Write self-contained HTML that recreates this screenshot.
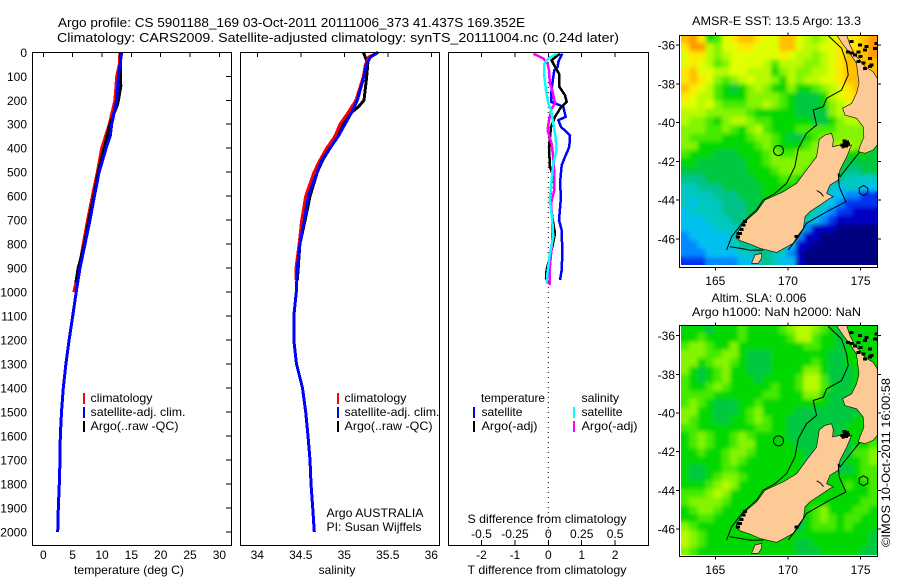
<!DOCTYPE html>
<html lang="en">
<head>
<meta charset="utf-8">
<title>Argo profile CS 5901188_169</title>
<style>
html,body{margin:0;padding:0;background:#fff;width:900px;height:580px;overflow:hidden}
svg{display:block;font-family:"Liberation Sans",Arial,sans-serif;font-size:12px;fill:#000}
</style>
</head>
<body>
<svg id="fig" xmlns="http://www.w3.org/2000/svg" width="900" height="580" viewBox="0 0 900 580">
<defs>
<clipPath id="clip-map1"><rect x="679.5" y="35.5" width="198" height="232"/></clipPath>
<clipPath id="clip-map2"><rect x="679.5" y="325.5" width="198" height="231"/></clipPath>
<filter id="soften" x="-5%" y="-5%" width="110%" height="110%"><feGaussianBlur stdDeviation="2.2"/></filter>
</defs>
<text x="58" y="27" font-size="13" textLength="467" lengthAdjust="spacingAndGlyphs">Argo profile: CS 5901188_169 03-Oct-2011 20111006_373 41.437S 169.352E</text>
<text x="57" y="42" font-size="13" textLength="562" lengthAdjust="spacingAndGlyphs">Climatology: CARS2009. Satellite-adjusted climatology: synTS_20111004.nc (0.24d later)</text>
<text x="74" y="574" textLength="110" lengthAdjust="spacingAndGlyphs">temperature (deg C)</text>
<text x="337" y="574" text-anchor="middle">salinity</text>
<text x="467.5" y="574" textLength="159" lengthAdjust="spacingAndGlyphs">T difference from climatology</text>
<text x="467.5" y="523" textLength="159" lengthAdjust="spacingAndGlyphs">S difference from climatology</text>
<text x="326.5" y="517" textLength="97" lengthAdjust="spacingAndGlyphs">Argo AUSTRALIA</text>
<text x="326.5" y="531" textLength="95" lengthAdjust="spacingAndGlyphs">PI: Susan Wijffels</text>
<text x="692" y="25" textLength="169" lengthAdjust="spacingAndGlyphs">AMSR-E SST: 13.5 Argo: 13.3</text>
<text x="711.5" y="302" textLength="95" lengthAdjust="spacingAndGlyphs">Altim. SLA: 0.006</text>
<text x="692" y="316" textLength="169" lengthAdjust="spacingAndGlyphs">Argo h1000: NaN h2000: NaN</text>
<text transform="translate(890,547) rotate(-90)" textLength="169" lengthAdjust="spacingAndGlyphs">©IMOS 10-Oct-2011 16:00:58</text>
</svg>
<script>
// ---------- depth / profile data ----------
const depthTicks = [0,100,200,300,400,500,600,700,800,900,1000,1100,1200,1300,1400,1500,1600,1700,1800,1900,2000];
const tempTicks = [0,5,10,15,20,25,30];
const salTicks = [34,34.5,35,35.5,36];
const salTickLabels = ['34','34.5','35','35.5','36'];
const tDiffTicks = [-2,-1,0,1,2];
const sDiffTicks = [-0.5,-0.25,0,0.25,0.5];
const sDiffTickLabels = ['-0.5','-0.25','0','0.25','0.5'];

const tempSatDepth = [0,100,200,300,350,400,500,600,700,800,900,1000,1100,1200,1300,1400,1500,1600,1700,1800,1900,2000];
const tempSatVal = [13.35,12.8,12.5,11.65,11.4,10.7,9.5,8.7,7.95,7.1,6.25,5.6,5.0,4.4,3.85,3.4,3.1,2.9,2.85,2.73,2.56,2.45];
const tempClimDepth = [0,50,100,200,300,400,500,600,700,800,900,1000];
const tempClimVal = [13.05,12.95,12.5,12.2,11.25,9.95,9.2,8.35,7.55,6.8,6.1,5.2];
const tempArgoDepth = [0,100,140,200,220,300,400,500,600,700,800,900,960];
const tempArgoVal = [13.15,13.15,13.2,12.8,12.6,11.35,10.4,9.35,8.6,7.75,7,5.95,5.55];

const salSatDepth = [0,20,54,100,200,250,300,350,400,450,500,600,700,800,900,1000,1100,1200,1300,1400,1500,1600,1700,1800,1900,2000];
const salSatVal = [35.39,35.30,35.25,35.226,35.15,35.085,35.008,34.931,34.836,34.74,34.69,34.586,34.54,34.49,34.46,34.448,34.42,34.42,34.45,34.52,34.556,34.583,34.606,34.617,34.637,34.655];
const salClimDepth = [0,20,54,100,200,250,300,350,400,450,500,600,700,800,900,950];
const salClimVal = [35.39,35.28,35.24,35.22,35.134,35.046,34.95,34.893,34.798,34.72,34.652,34.556,34.51,34.48,34.445,34.445];
const salArgoDepth = [0,47,100,200,228,250,300,332,350,400,450,500,600,700,800,900,950];
const salArgoVal = [35.218,35.27,35.257,35.226,35.16,35.085,34.99,34.94,34.89,34.836,34.75,34.69,34.606,34.55,34.49,34.47,34.46];

const dTempSatDepth = [6,40,61,75,131,186,207,221,228,269,283,311,346,394,436,471,547,603,700,742,839,908,950];
const dTempSatVal = [.42,.30,.28,.18,.12,.08,.08,.35,.45,.52,.30,.38,.65,.63,.50,.40,.35,.38,.32,.40,.42,.40,.35];
const dTempArgoDepth = [6,33,61,89,144,179,207,235,269,311,394,478,506,617,714,756,811,908,943,964];
const dTempArgoVal = [.35,.10,.20,.32,.33,.50,.55,.35,.20,.08,.02,.05,.12,.05,.15,.20,.12,-.05,-.07,0];
const dSalArgoDepth = [6,26,47,75,131,158,214,235,283,325,381,436,506,575,631,700,783,894,971];
const dSalArgoVal = [-.112,-.037,-.005,.005,.012,.03,.05,.025,.005,-.005,.025,.037,.045,.045,.02,.03,.03,.012,.012];
const dSalSatDepth = [6,26,47,89,158,214,242,297,353,408,464,533,617,700,769,839,922,964];
const dSalSatVal = [.062,0,-.03,-.032,-.017,0,.02,.037,.055,.062,.037,.025,.012,.03,.037,.012,-.007,-.012];

// ---------- map data (gridded level codes, one string per latitude row) ----------
const sstGrid = [
"efd89cdeedcceecbabcdddef","dffbaccddccceecbbccdddef","cddbabccccccdcbbabcdeeef","cdcb9accccb9bbbaabcdeeee",
"deccbbccbbb8abaabbcdeeee","dedca9abcbba8babbccdeeee","edcb9878aba88a889abcdeee","dcbb9888aaaa987778bcdddd",
"ccbca999aaba987778abcccc","bbbaaaaa9888887777abbbbb","baa98abba9988888778abbbb","aaa99a98ab988899999aaaaa",
"a99998889aa987789aaaaaaa","aa88888889a98889aaabbaa8","98887778889a99aaaaa98887","88777777889aaaaa98887777",
"777777778889aaa988876677","666777777888998888765555","556667777788888887545544","555566677788888886443322",
"545556667788888875432222","455556667788888754322111","444555667778887543211111","444455567777765311100000",
"344444567766653110000000","334444566655541100000000","333444455665531000000000","222333344565441000000000"];
const slaGrid = [
"8887888988889abba9878888","88988889888889bb98878888","9aa988a88888888998878888","aaa99aa87778888888778888",
"aa89aa987778888898778888","a8789a887778888aa8777888","98789a888788889bb9777888","9889a9888889889bb9877888",
"999988888899888aa8777888","9a9877788988888888777888","aa8877789a88887777777788","a98877889a98877777777888",
"998888888998877777778888","89a9889a9888877777778888","89a9889aa888887777777889","889889aa988888877777799a",
"888889a9888888877777889a","877889988888888778877899","87789aa98888888888888899","8889aba88888888888889889",
"999aba888888888888888889","9aaaa9888888888888888899","89aa9888888888889a888998","88998888888888789a989988",
"a98888888888887899989888","ba9888888888888888888887","ba9888888888887788888887","a98888888888887778888877"];
const levelColors = {'0':'#000080','1':'#0000c4','2':'#0030f0','3':'#0088ff','4':'#00c0f0','5':'#00c8c0','6':'#00c288','7':'#00c840','8':'#00d800','9':'#44ea00','a':'#84f400','b':'#b8fb00','c':'#e0ff00','d':'#ffe800','e':'#ffc000','f':'#ff9800'};
const gridLonRange = [162.64,176.13];
const gridLatRange = [-35.47,-47.34];

const southIsland = [[172.16,-40.86],[172.55,-40.64],[173.0,-40.55],[173.12,-40.86],[173.07,-41.24],[173.58,-41.15],[173.76,-41.33],[174.38,-41.15],[174.04,-41.76],[173.58,-42.44],[173.46,-42.96],[172.89,-43.22],[172.66,-43.65],[173.12,-43.82],[172.89,-43.9],[172.2,-44.25],[171.51,-44.59],[171.17,-44.85],[171.06,-45.45],[170.71,-45.79],[170.37,-46.22],[169.22,-46.69],[168.07,-46.48],[167.39,-46.26],[166.7,-46.09],[166.42,-45.88],[166.7,-45.45],[167.16,-45.02],[167.84,-44.59],[168.42,-43.99],[169.68,-43.56],[170.6,-43.13],[171.28,-42.44],[171.97,-41.76]];
const northIsland = [[173.35,-35.48],[173.81,-36.0],[174.27,-36.43],[174.72,-36.95],[174.89,-37.98],[174.72,-38.49],[174.38,-39.01],[173.76,-39.26],[173.92,-39.61],[174.72,-39.78],[175.18,-40.21],[175.23,-40.73],[174.95,-41.24],[174.84,-41.5],[175.3,-41.58],[175.87,-41.41],[176.15,-41.15],[176.15,-37.72],[175.87,-37.38],[175.3,-37.12],[174.95,-36.78],[174.61,-36.51],[174.27,-36.0],[174.04,-35.48]];
const stewartIsland = [[167.5,-47.25],[167.73,-46.82],[168.19,-46.74],[168.19,-46.99],[167.96,-47.25]];
const isobathWest = [[172.78,-35.52],[173.69,-36.17],[174.04,-36.95],[174.15,-37.55],[173.69,-38.32],[172.66,-38.75],[172.43,-39.18],[171.74,-39.35],[171.97,-40.12],[171.28,-40.55],[170.71,-41.33],[170.48,-42.27],[169.91,-43.13],[169.11,-43.65],[168.3,-43.99],[167.84,-44.5],[166.93,-45.11],[166.12,-45.88],[165.78,-46.57]];
const isobathEast = [[174.95,-41.5],[173.58,-42.79],[173.46,-42.62],[173.53,-43.3],[173.99,-44.08],[172.89,-44.5],[171.28,-45.19],[170.71,-45.88],[170.02,-46.57]];
const isobathSouth = [[166.01,-46.4],[166.7,-46.48],[167.39,-46.57],[168.3,-46.57]];
const peninsulaInlet = [[171.98,-43.5],[172.25,-43.62],[172.45,-43.8]];
const islandBlots = [[173.92,-41.07],[173.75,-41.15],[174.05,-41.0],[173.85,-41.2],[174.0,-41.2],[174.15,-41.1],[173.9,-40.95],
[166.7,-45.71],[166.93,-45.28],[166.55,-45.9],[166.8,-45.5],[166.6,-45.72],[167.05,-45.1],
[174.39,-35.83],[174.15,-36.35],[174.39,-36.4],[174.61,-36.52],[174.84,-36.86],[175.2,-36.94],[175.65,-36.69],[175.3,-36.26],[175.42,-36.09],[175.99,-36.17],[174.96,-36.0],[174.84,-36.35],[175.76,-37.03],[176.1,-35.91],[175.65,-37.11],[175.3,-37.2],[175.0,-36.6],[170.6,-45.88]];
const lonTicks = [165,170,175];
const latTicks = [-36,-38,-40,-42,-44,-46];
const argoPosition = [169.352,-41.437];
const otherFloat = [175.2,-43.5];

// ---------- axis functions ----------
const depthY = d => 52.3 + d * 0.2398;
const tempX = t => 43.3 + t * 5.87;
const salX = s => 257.3 + (s - 34) * 87;
const tDiffX = t => 548.3 + t * 33.4;
const sDiffX = s => 548.3 + s * 133.6;
const lonX = lon => 715.3 + (lon - 165) * 14.53;
const map1Y = lat => 45 + (-lat - 36) * 19.4;
const map2Y = lat => 335.7 + (-lat - 36) * 19.34;

const NS = 'http://www.w3.org/2000/svg';
const fig = document.getElementById('fig');
function el(tag, attrs, parent) {
  const e = document.createElementNS(NS, tag);
  for (const k in attrs) e.setAttribute(k, attrs[k]);
  (parent || fig).appendChild(e);
  return e;
}
function frame(x0, y0, x1, y1, name) {
  const r = el('rect', {x:x0, y:y0, width:x1-x0, height:y1-y0, fill:'none', stroke:'#000', 'stroke-width':1.3, 'shape-rendering':'crispEdges'});
  
  
}
function tick(x1, y1, x2, y2) {
  const t = el('line', {x1, y1, x2, y2, stroke:'#000', 'stroke-width':1, 'shape-rendering':'crispEdges'});
  
  
}
function label(x, y, str, anchor) {
  const t = el('text', {x, y, 'text-anchor':anchor});
  t.textContent = str;
  
  
}
function profile(xs, ys, xf, color, width, name) {
  const pts = xs.map((v, i) => xf(v).toFixed(1) + ',' + depthY(ys[i]).toFixed(1)).join(' ');
  const p = el('polyline', {points:pts, fill:'none', stroke:color, 'stroke-width':width, 'stroke-linejoin':'miter', 'shape-rendering':'crispEdges'});
  
  
}
function legendBar(x, y, color) {
  const b = el('rect', {x, y, width:2, height:11, fill:color});
  
  
}
function legendText(x, y, str, w) {
  const t = el('text', {x, y, textLength:w, lengthAdjust:'spacingAndGlyphs'});
  t.textContent = str;
  
  
}

// ---------- depth-labelled panels ----------
depthTicks.forEach(d => {
  label(27, depthY(d) + 4.5, String(d), 'end');
  tick(226, depthY(d), 231, depthY(d));
});
tempTicks.forEach(t => {
  tick(tempX(t), 52, tempX(t), 57);
  label(tempX(t), 559, String(t), 'middle');
});
salTicks.forEach((s, i) => {
  tick(salX(s), 52, salX(s), 57);
  label(salX(s), 559, salTickLabels[i], 'middle');
});
tDiffTicks.forEach(t => {
  tick(tDiffX(t), 52, tDiffX(t), 57);
  tick(tDiffX(t), 540, tDiffX(t), 545);
  label(tDiffX(t), 559, String(t), 'middle');
});
sDiffTicks.forEach((s, i) => {
  label(sDiffX(s), 538, sDiffTickLabels[i], 'middle');
});

const zero = el('line', {x1:tDiffX(0), x2:tDiffX(0), y1:52, y2:545, stroke:'#000', 'stroke-width':1, 'stroke-dasharray':'1 4'});



profile(tempClimVal, tempClimDepth, tempX, '#ff0000', 3, 'temperature-climatology-line');
profile(tempArgoVal, tempArgoDepth, tempX, '#000000', 3, 'temperature-argo-line');
profile(tempSatVal, tempSatDepth, tempX, '#0000ff', 3, 'temperature-satellite-line');
profile(salArgoVal, salArgoDepth, salX, '#000000', 3, 'salinity-argo-line');
profile(salClimVal, salClimDepth, salX, '#ff0000', 3, 'salinity-climatology-line');
profile(salSatVal, salSatDepth, salX, '#0000ff', 3, 'salinity-satellite-line');
profile(dTempSatVal, dTempSatDepth, tDiffX, '#0000ff', 2.5, 'temperature-difference-satellite-line');
profile(dTempArgoVal, dTempArgoDepth, tDiffX, '#000000', 2.5, 'temperature-difference-argo-line');
profile(dSalArgoVal, dSalArgoDepth, sDiffX, '#ff00ff', 2.5, 'salinity-difference-argo-line');
profile(dSalSatVal, dSalSatDepth, sDiffX, '#00ffff', 2.5, 'salinity-difference-satellite-line');

frame(32.5, 52.5, 231.5, 545.5, 'temperature-panel-frame');
frame(240.5, 52.5, 439.5, 545.5, 'salinity-panel-frame');
frame(448.5, 52.5, 648.5, 545.5, 'difference-panel-frame');

// legends
legendBar(83, 393, '#ff0000'); legendText(90.5, 402, 'climatology', 62);
legendBar(83, 407, '#0000ff'); legendText(90.5, 416, 'satellite-adj. clim.', 95);
legendBar(83, 421, '#000000'); legendText(90.5, 430, 'Argo(..raw -QC)', 88);
legendBar(337, 393, '#ff0000'); legendText(344.5, 402, 'climatology', 62);
legendBar(337, 407, '#0000ff'); legendText(344.5, 416, 'satellite-adj. clim.', 95);
legendBar(337, 421, '#000000'); legendText(344.5, 430, 'Argo(..raw -QC)', 88);
legendText(481, 402, 'temperature', 64);
legendBar(473, 407, '#0000ff'); legendText(481.5, 416, 'satellite', 41);
legendBar(473, 421, '#000000'); legendText(481.5, 430, 'Argo(-adj)', 56);
legendText(581.5, 402, 'salinity', 37.5);
legendBar(573, 407, '#00ffff'); legendText(581.5, 416, 'satellite', 41);
legendBar(573, 421, '#ff00ff'); legendText(581.5, 430, 'Argo(-adj)', 56);

// ---------- maps ----------
function drawMap(grid, yf, clipId, top, bottom, labelY, prefix) {
  const g = el('g', {'clip-path':'url(#' + clipId + ')'});
  
  
  const cellsGroup = el('g', {id:prefix + '-cells'}, g);
  
  
  const nRows = grid.length;
  const x0 = lonX(gridLonRange[0]), x1 = lonX(gridLonRange[1]);
  const y0 = yf(gridLatRange[0]), y1 = yf(gridLatRange[1]);
  const cw = (x1 - x0) / 24, ch = (y1 - y0) / nRows;
  grid.forEach((row, r) => {
    const codes = row.padEnd(24, row[row.length - 1]).slice(0, 24);
    for (let c = 0; c < 24; c++) {
      const cell = el('rect', {x:(x0 + c * cw).toFixed(2), y:(y0 + r * ch).toFixed(2), width:(c === 23 ? cw : cw + 0.5).toFixed(2), height:(r === nRows - 1 ? ch : ch + 0.5).toFixed(2), fill:levelColors[codes[c]], 'shape-rendering':'crispEdges'}, cellsGroup);
      
      
    }
  });
  // soften the coarse cells: a blurred copy sits over the sharp one, then a clip keeps the white margin
  const innerClip = el('clipPath', {id:prefix + '-inner'}, g);
  el('rect', {x:x0, y:y0, width:x1 - x0, height:y1 - y0}, innerClip);
  const softWrap = el('g', {'clip-path':'url(#' + prefix + '-inner)'}, g);
  const soft = el('use', {href:'#' + prefix + '-cells', filter:'url(#soften)'}, softWrap);
  
  

  const toPts = arr => arr.map(p => lonX(p[0]).toFixed(1) + ',' + yf(p[1]).toFixed(1)).join(' ');
  [[northIsland,'north-island'],[southIsland,'south-island'],[stewartIsland,'stewart-island']].forEach(item => {
    const land = el('polygon', {points:toPts(item[0]), fill:'#fdca96', stroke:'#000', 'stroke-width':0.6}, g);
    
    
  });
  [isobathWest, isobathEast, isobathSouth, peninsulaInlet].forEach(arr => {
    const iso = el('polyline', {points:toPts(arr), fill:'none', stroke:'#000', 'stroke-width':1}, g);
    
    
  });
  islandBlots.forEach(p => {
    const blot = el('rect', {x:lonX(p[0]) - 2, y:yf(p[1]) - 1.5, width:4, height:3, fill:'#000', 'shape-rendering':'crispEdges'}, g);
    
    
  });
  const mark = el('circle', {cx:lonX(argoPosition[0]), cy:yf(argoPosition[1]), r:5, fill:'none', stroke:'#000', 'stroke-width':1}, g);
  
  
  const cx = lonX(otherFloat[0]), cy = yf(otherFloat[1]);
  const hexPts = [0,1,2,3,4,5].map(i => (cx + 5 * Math.cos(Math.PI / 6 + i * Math.PI / 3)).toFixed(1) + ',' + (cy + 5 * Math.sin(Math.PI / 6 + i * Math.PI / 3)).toFixed(1)).join(' ');
  const hex = el('polygon', {points:hexPts, fill:'none', stroke:'#000', 'stroke-width':1}, g);
  
  

  frame(679.5, top, 877.5, bottom, prefix + '-map-frame');
  lonTicks.forEach(lon => {
    tick(lonX(lon), top - 3, lonX(lon), top);
    tick(lonX(lon), bottom, lonX(lon), bottom + 3);
    label(lonX(lon), labelY, String(lon), 'middle');
  });
  latTicks.forEach(lat => {
    tick(676, yf(lat), 679, yf(lat));
    tick(877, yf(lat), 881, yf(lat));
    label(675, yf(lat) + 4.5, String(lat), 'end');
  });
}
drawMap(sstGrid, map1Y, 'clip-map1', 35.5, 267.5, 285, 'sst');
drawMap(slaGrid, map2Y, 'clip-map2', 325.5, 556.5, 574, 'sla');
</script>
</body>
</html>
